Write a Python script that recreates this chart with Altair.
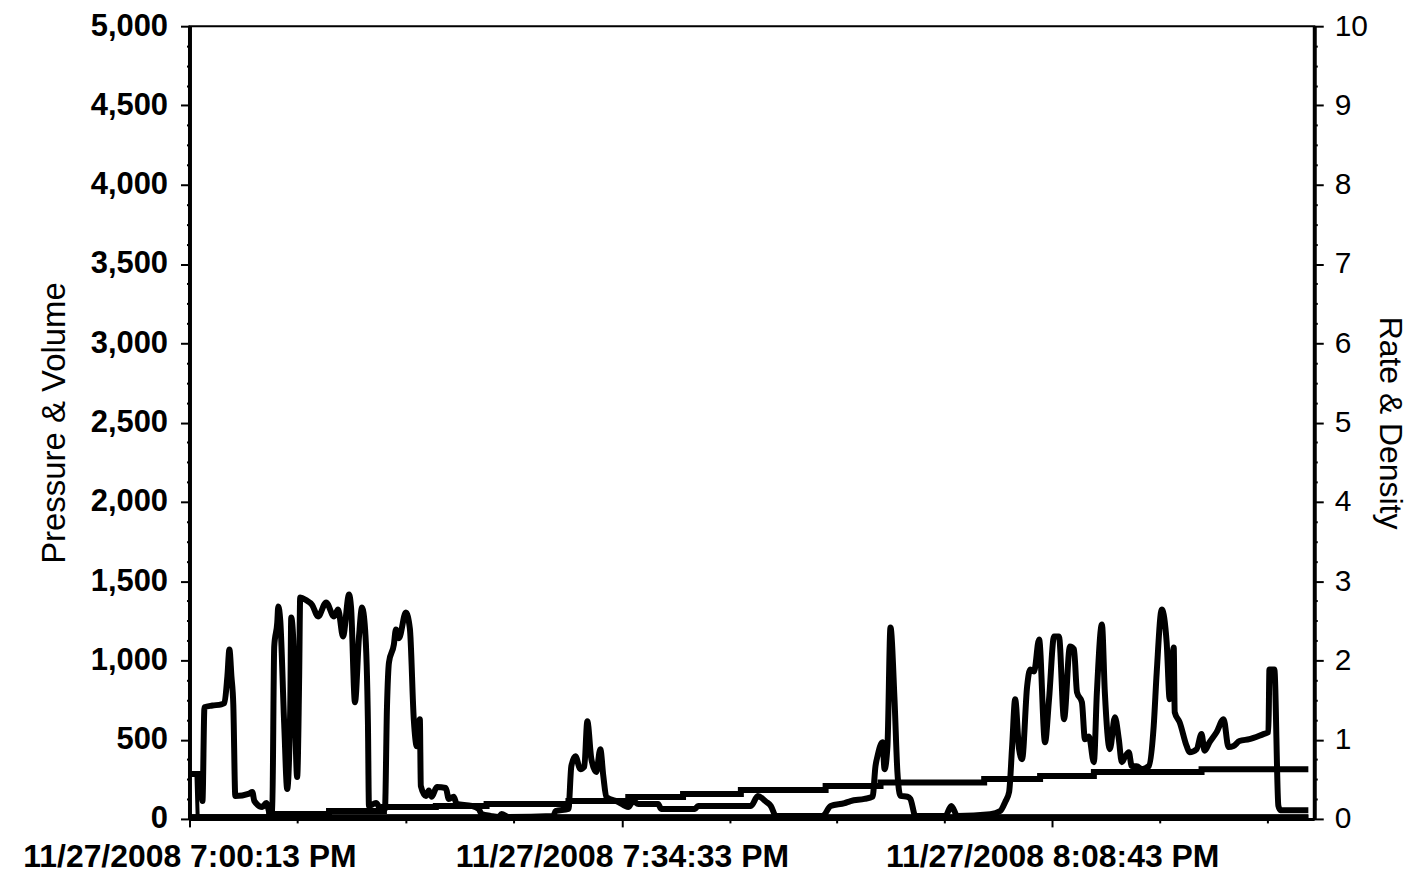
import altair as alt
import pandas as pd

FONT = "Liberation Sans"

# ---- data (minutes after 11/27/2008 7:00:13 PM) ----
minutes_p = [0.0, 0.79, 1.03, 1.19, 1.82, 2.53, 2.77, 3.01, 3.17, 3.33,
             3.48, 3.64, 4.75, 4.99, 5.15, 5.78, 6.10, 6.41, 6.57, 6.73,
             6.97, 7.05, 7.21, 7.52, 7.76, 8.00, 8.08, 8.23, 8.55, 8.71,
             8.79, 9.26, 9.74, 10.21, 10.85, 11.48, 11.80, 12.19, 12.67, 12.83,
             13.14, 13.46, 13.70, 13.94, 14.17, 14.25, 14.81, 15.20, 15.52, 15.68,
             15.84, 16.23, 16.39, 16.63, 17.18, 17.50, 17.81, 18.05, 18.29, 18.37,
             18.77, 19.00, 19.24, 19.64, 20.35, 20.59, 20.98, 21.22, 22.41, 22.96,
             23.20, 23.91, 24.55, 24.78, 25.34, 28.90, 29.06, 30.09, 30.32, 30.64,
             31.04, 31.35, 31.59, 31.91, 32.30, 32.62, 32.86, 33.10, 34.05, 34.84,
             35.23, 35.63, 37.21, 37.45, 40.14, 40.38, 44.58, 45.13, 45.76, 46.16,
             46.56, 50.28, 50.91, 52.02, 52.49, 53.60, 54.24, 54.47, 54.63, 55.03,
             55.19, 55.42, 55.66, 55.98, 56.21, 56.45, 57.01, 57.24, 57.64, 60.02,
             60.49, 60.97, 63.58, 64.37, 64.77, 65.08, 65.32, 65.56, 65.87, 66.11,
             66.51, 66.75, 67.06, 67.46, 67.93, 68.25, 68.65, 69.04, 69.44, 69.91,
             70.23, 70.47, 70.86, 71.10, 71.42, 71.81, 72.05, 72.45, 72.68, 73.08,
             73.48, 73.79, 74.03, 74.27, 74.58, 74.82, 75.22, 75.61, 76.17, 76.56,
             76.80, 77.20, 77.59, 77.83, 78.15, 78.23, 78.62, 79.18, 79.41, 79.97,
             80.36, 80.60, 81.00, 81.55, 82.11, 82.50, 82.90, 83.37, 84.16, 85.27,
             85.67, 85.75, 86.14, 86.46, 86.62, 88.84]
pressure = [283, 283, 113, 704, 715, 723, 730, 900, 1069, 900,
            720, 145, 160, 170, 113, 75, 100, 31, 40, 1088,
            1239, 1340, 1250, 600, 189, 700, 1270, 1150, 264, 900,
            1396, 1380, 1350, 1277, 1365, 1277, 1321, 1151, 1415, 1333,
            736, 1150, 1333, 1200, 600, 82, 100, 63, 63, 700,
            987, 1100, 1195, 1140, 1302, 1200, 629, 459, 629, 208,
            145, 180, 140, 201, 195, 126, 140, 94, 82, 63,
            31, 19, 12, 31, 12, 19, 50, 63, 333, 396,
            314, 330, 616, 377, 296, 440, 270, 138, 107, 75,
            113, 94, 94, 63, 63, 82, 82, 145, 110, 82,
            19, 19, 82, 100, 113, 126, 140, 333, 396, 484,
            314, 460, 1208, 755, 296, 145, 140, 126, 19, 19,
            82, 19, 30, 50, 107, 170, 459, 755, 440, 377,
            836, 943, 930, 1132, 484, 755, 1151, 1150, 629, 1088,
            1070, 799, 736, 503, 520, 358, 799, 1226, 799, 440,
            642, 503, 358, 390, 421, 333, 333, 314, 333, 585,
            925, 1321, 1113, 755, 1082, 673, 610, 459, 421, 440,
            535, 430, 484, 547, 629, 453, 460, 491, 503, 535,
            547, 943, 943, 82, 55, 55]

minutes_v = [0.0, 6.33, 11.08, 15.44, 19.56, 23.59, 30.09, 34.84, 39.19,
             43.78, 50.51, 54.87, 63.10, 67.54, 71.81, 80.36, 88.84]
volume = [10, 31, 50, 75, 82, 94, 113, 138, 157,
          182, 208, 230, 252, 270, 296, 314, 314]

minutes_r = [0.0, 0.55, 0.65, 88.84]
rate = [0.57, 0.57, 0.03, 0.03]

minutes_d = [0.0, 88.84]
density = [0.02, 0.02]

x_domain = [0, 89.31]
x_tick_values = [0, 8.58, 17.17, 25.75, 34.33, 42.88, 51.42, 59.96, 68.5, 77.04, 85.58]
x_label_values = [0, 34.33, 68.5]
x_label_texts = ["11/27/2008 7:00:13 PM", "11/27/2008 7:34:33 PM", "11/27/2008 8:08:43 PM"]
left_ticks = [i * 125 for i in range(41)]
right_ticks = [i * 0.25 for i in range(41)]

# ---- build ----
p_df = pd.DataFrame({"minute": minutes_p, "value": pressure})
v_df = pd.DataFrame({"minute": minutes_v, "value": volume})
r_df = pd.DataFrame({"minute": minutes_r, "value": rate})
d_df = pd.DataFrame({"minute": minutes_d, "value": density})

label_expr = ""
for v, t in zip(x_label_values, x_label_texts):
    label_expr += f"abs(datum.value - {v}) < 0.05 ? '{t}' : "
label_expr += "''"

is_major_x = " || ".join(f"abs(datum.value - {v}) < 0.05" for v in x_label_values)

x_axis = alt.Axis(
    title=None, values=x_tick_values, labelExpr=label_expr,
    tickSize={"condition": {"test": is_major_x, "value": 8}, "value": 4},
    tickWidth=2, tickColor="black", domainColor="black", domainWidth=3,
    labelFont=FONT, labelFontSize=32, labelFontWeight="bold", labelColor="black",
    labelPadding=15, labelLimit=0, labelOverlap=False, labelFlush=False,
    labelBound=False, grid=False,
)
x_enc = alt.X("minute:Q", scale=alt.Scale(domain=x_domain, nice=False, zero=False), axis=x_axis)

left_axis = alt.Axis(
    title="Pressure & Volume", orient="left", values=left_ticks,
    labelExpr="datum.value % 500 == 0 ? format(datum.value, ',') : ''",
    tickSize={"condition": {"test": "datum.value % 500 == 0", "value": 9}, "value": 3},
    tickWidth=2, tickColor="black", domainColor="black", domainWidth=4,
    labelFont=FONT, labelFontSize=31, labelFontWeight="bold", labelColor="black",
    labelPadding=13, labelOverlap=False, labelFlush=False, grid=False,
    titleFont=FONT, titleFontSize=33, titleFontWeight="normal", titleColor="black",
    titlePadding=19,
)
right_axis = alt.Axis(
    title="Rate & Density", orient="right", values=right_ticks,
    labelExpr="datum.value % 1 == 0 ? format(datum.value, 'd') : ''",
    tickSize={"condition": {"test": "datum.value % 1 == 0", "value": 9}, "value": 3},
    tickWidth=2, tickColor="black", domainColor="black", domainWidth=4,
    labelFont=FONT, labelFontSize=30, labelFontWeight="normal", labelColor="black",
    labelPadding=11, labelOverlap=False, labelFlush=False, grid=False,
    titleFont=FONT, titleFontSize=32, titleFontWeight="normal", titleColor="black",
    titlePadding=5,
)

y_left = alt.Y("value:Q", scale=alt.Scale(domain=[0, 5000], nice=False), axis=left_axis)
y_right = alt.Y("value:Q", scale=alt.Scale(domain=[0, 10], nice=False), axis=right_axis)

pres = alt.Chart(p_df).mark_line(
    color="black", strokeWidth=6, strokeJoin="round", interpolate="monotone"
).encode(x=x_enc, y=y_left)
vol = alt.Chart(v_df).mark_line(
    color="black", strokeWidth=6, interpolate="step-after"
).encode(x=x_enc, y=y_left)
left = alt.layer(vol, pres)

rt = alt.Chart(r_df).mark_line(color="black", strokeWidth=4).encode(x=x_enc, y=y_right)
dn = alt.Chart(d_df).mark_line(color="black", strokeWidth=6).encode(x=x_enc, y=y_right)
right = alt.layer(rt, dn)

chart = (
    alt.layer(left, right)
    .resolve_scale(y="independent")
    .properties(
        width=1128, height=795,
        autosize=alt.AutoSizeParams(type="none"),
        padding={"left": 182, "top": 17, "right": 95, "bottom": 56},
        background="white",
    )
    .configure_view(stroke="black", strokeWidth=2)
)

chart.save("out.html", embed_options={"renderer": "svg", "actions": False})
